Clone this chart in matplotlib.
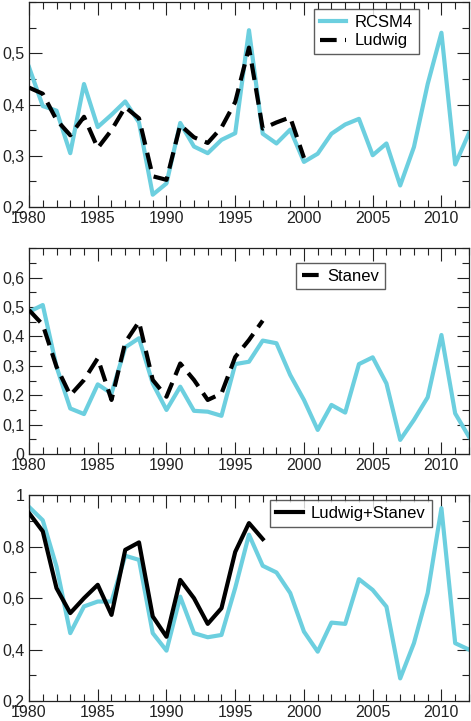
import matplotlib
matplotlib.use('Agg')
import matplotlib.pyplot as plt
from matplotlib.ticker import MultipleLocator, FuncFormatter
import numpy as np

plt.rcParams['font.family'] = ['Liberation Sans', 'DejaVu Sans']

# anni
anni = np.arange(1980, 2013)
anni_oss = np.arange(1980, 1998)
anni_ludwig = np.arange(1980, 2001)

# pannello superiore
rcsm4_a = [0.473, 0.397, 0.388, 0.305, 0.440, 0.356, 0.380, 0.406, 0.365, 0.224,
           0.246, 0.364, 0.318, 0.305, 0.331, 0.344, 0.545, 0.343, 0.324, 0.351,
           0.288, 0.304, 0.343, 0.361, 0.372, 0.301, 0.324, 0.242, 0.317, 0.440,
           0.540, 0.283, 0.344]
ludwig = [0.433, 0.421, 0.370, 0.340, 0.376, 0.315, 0.350, 0.395, 0.373, 0.260,
          0.253, 0.360, 0.336, 0.325, 0.355, 0.405, 0.511, 0.353, 0.365, 0.375,
          0.296]

# pannello centrale
rcsm4_b = [0.484, 0.507, 0.297, 0.155, 0.136, 0.237, 0.206, 0.363, 0.394, 0.240,
           0.150, 0.229, 0.147, 0.144, 0.130, 0.306, 0.314, 0.386, 0.377, 0.269,
           0.184, 0.082, 0.167, 0.141, 0.306, 0.329, 0.240, 0.048, 0.116, 0.193,
           0.405, 0.138, 0.059]
stanev = [0.490, 0.440, 0.297, 0.200, 0.252, 0.326, 0.184, 0.380, 0.450, 0.252,
          0.195, 0.308, 0.252, 0.184, 0.206, 0.330, 0.388, 0.454]

# pannello inferiore
rcsm4_c = [0.955, 0.903, 0.723, 0.464, 0.568, 0.587, 0.587, 0.765, 0.749, 0.464,
           0.396, 0.606, 0.464, 0.448, 0.457, 0.640, 0.847, 0.726, 0.700, 0.620,
           0.470, 0.392, 0.505, 0.500, 0.674, 0.632, 0.567, 0.288, 0.425, 0.620,
           0.950, 0.425, 0.400]
ludwig_stanev = [0.931, 0.860, 0.639, 0.542, 0.600, 0.652, 0.535, 0.788, 0.817, 0.529,
                 0.450, 0.671, 0.600, 0.500, 0.561, 0.780, 0.892, 0.830]

CIANO = '#6ccfdf'
NERO = '#000000'


def virgola(v, pos):
    s = ('%.2f' % v).rstrip('0').rstrip('.')
    return s.replace('.', ',')


def formatta_asse(ax, ymin, ymax, ymaj, ymin_step, etichette_max):
    ax.set_xlim(1980, 2012)
    ax.set_ylim(ymin, ymax)
    ax.xaxis.set_major_locator(MultipleLocator(5))
    ax.xaxis.set_minor_locator(MultipleLocator(1))
    ax.set_yticks(np.arange(ymin, etichette_max + 1e-9, ymaj))
    ax.yaxis.set_minor_locator(MultipleLocator(ymin_step))
    ax.yaxis.set_major_formatter(FuncFormatter(virgola))
    ax.tick_params(which='both', direction='in', top=True, right=True,
                   width=0.8, labelsize=11.5, colors='#222222')
    ax.tick_params(which='major', length=9)
    ax.tick_params(which='minor', length=4.8)
    ax.tick_params(axis='x', pad=3)
    ax.tick_params(axis='y', pad=3.5)
    for s in ax.spines.values():
        s.set_linewidth(0.9)
        s.set_color('#222222')


def legenda(ax, ancora, lung=1.6):
    leg = ax.legend(loc='upper right', bbox_to_anchor=ancora, fontsize=12,
                    fancybox=False, handlelength=lung, borderpad=0.35, labelspacing=0.2,
                    handletextpad=0.5, borderaxespad=0)
    leg.get_frame().set_edgecolor('#333333')
    leg.get_frame().set_linewidth(1.0)


fig = plt.figure(figsize=(4.71, 7.21), dpi=100)
ax1 = fig.add_axes([0.0616, 0.7129, 0.934, 0.2843])
ax2 = fig.add_axes([0.0616, 0.3703, 0.934, 0.2853])
ax3 = fig.add_axes([0.0616, 0.0277, 0.934, 0.2853])

# superiore
ax1.plot(anni, rcsm4_a, color=CIANO, lw=3, label='RCSM4', zorder=2)
ax1.plot(anni_ludwig, ludwig, color=NERO, lw=3, dashes=(4, 2), label='Ludwig', zorder=3)
formatta_asse(ax1, 0.2, 0.6, 0.1, 0.05, 0.5)
legenda(ax1, (0.886, 0.965))

# centrale
ax2.plot(anni, rcsm4_b, color=CIANO, lw=3, zorder=2)
ax2.plot(anni_oss, stanev, color=NERO, lw=3, dashes=(4, 2), label='Stanev', zorder=3)
formatta_asse(ax2, 0.0, 0.7, 0.1, 0.05, 0.6)
legenda(ax2, (0.809, 0.93), lung=1.0)

# inferiore
ax3.plot(anni, rcsm4_c, color=CIANO, lw=3, zorder=2)
ax3.plot(anni_oss, ludwig_stanev, color=NERO, lw=3, label='Ludwig+Stanev', zorder=3)
formatta_asse(ax3, 0.2, 1.0, 0.2, 0.1, 1.0)
legenda(ax3, (0.915, 0.975))

fig.savefig('out.png', dpi=100)
